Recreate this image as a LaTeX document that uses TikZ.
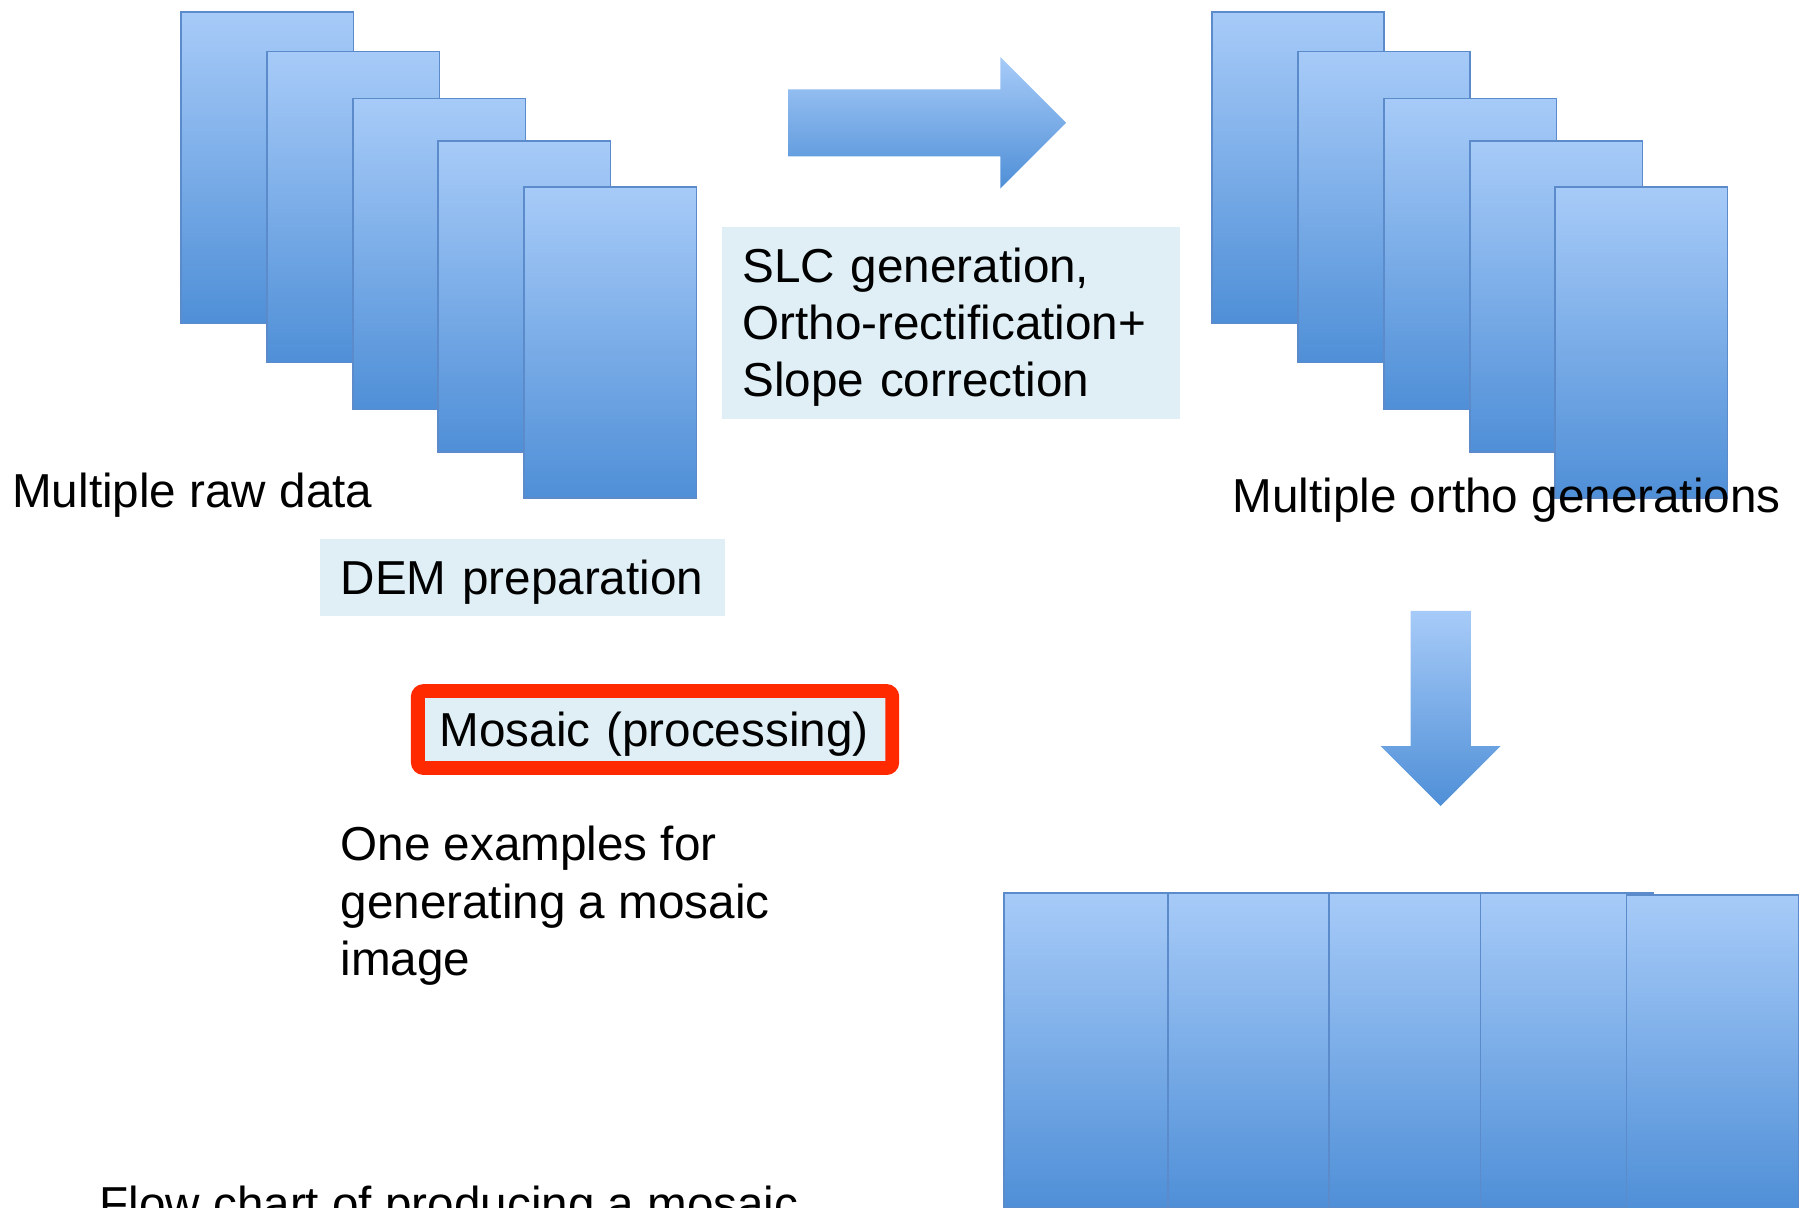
\documentclass[tikz,border=0pt]{standalone}
\usepackage{fontspec}
\setmainfont{Liberation Sans}
\usetikzlibrary{shapes.arrows}

\definecolor{pagetop}{HTML}{A7CBF8}
\definecolor{pagebot}{HTML}{4F8FD7}
\definecolor{pageedge}{HTML}{5B8BCB}
\definecolor{boxfill}{HTML}{DFEFF5}
\definecolor{boxred}{HTML}{FF2A00}

\begin{document}
\begin{tikzpicture}[x=0.01cm,y=-0.01cm,font=\fontsize{11.8}{14.2}\selectfont,
                    page node/.style={rectangle,draw=pageedge,top color=pagetop,bottom color=pagebot,
                                      minimum width=1.5cm,minimum height=2.71cm,inner sep=0pt,anchor=north west},
                    text node/.style={inner sep=0pt,anchor=west,align=left},
                    task box/.style={rectangle,fill=boxfill,anchor=north west,inner ysep=0pt,align=left},
                    block arrow/.style={single arrow,draw=none,top color=pagetop,bottom color=pagebot,
                                        single arrow head indent=0pt}]

  \clip (0,0) rectangle (1568,1052);

  % raw data
  \node[page node] (r1) at (157,10) {};
  \node[page node] (r2) at (232,44) {};
  \node[page node] (r3) at (307,85) {};
  \node[page node] (r4) at (381,122) {};
  \node[page node] (r5) at (456,162) {};

  % ortho images
  \node[page node] (o1) at (1055,10) {};
  \node[page node] (o2) at (1130,44) {};
  \node[page node] (o3) at (1205,85) {};
  \node[page node] (o4) at (1280,122) {};
  \node[page node] (o5) at (1354,162) {};

  % mosaic
  \node[page node,minimum height=2.74cm] (m1) at (874,777) {};
  \node[page node,minimum height=2.74cm] (m2) at (1017,777) {};
  \node[page node,minimum height=2.74cm] (m3) at (1157,777) {};
  \node[page node,minimum height=2.74cm] (m4) at (1289,777) {};
  \node[page node,minimum height=2.74cm] (m5) at (1416,779) {};

  \node[block arrow,minimum height=2.42cm,inner xsep=0pt,inner ysep=0.285cm,
        single arrow head extend=0.28cm] (right) at (793,107) {};
  \node[block arrow,shape border rotate=270,minimum height=1.7cm,inner xsep=0.255cm,inner ysep=0pt,
        single arrow head extend=0.26cm] (down) at (1255,604) {};

  \node[task box,minimum width=3.99cm,minimum height=1.67cm,inner xsep=0.18cm,text width=3.63cm,
        text depth=1.01cm] (slc) at (628,197)
       {SLC generation,\\Ortho-rectification+\\Slope correction};
  \node[task box,minimum width=3.53cm,minimum height=0.67cm,inner xsep=0.18cm,text width=3.17cm,
        text depth=0.01cm] (dem) at (278,469)
       {DEM preparation};
  \node[task box,draw=boxred,line width=0.12cm,rounded corners=0.05cm,minimum width=4.13cm,minimum height=0.67cm,
        inner xsep=0.19cm,text width=3.75cm,text depth=0cm] (mosaic) at (358,596) {Mosaic (processing)};

  \node[text node] (raw) at (10,431) {Multiple raw data};
  \node[text node] (ortho) at (1073,436) {Multiple ortho generations};
  \node[text node] (example) at (296,789) {One examples for\\generating a mosaic\\image};
  \node[text node,anchor=base west] (caption) at (86,1063) {Flow chart of producing a mosaic};
\end{tikzpicture}
\end{document}
